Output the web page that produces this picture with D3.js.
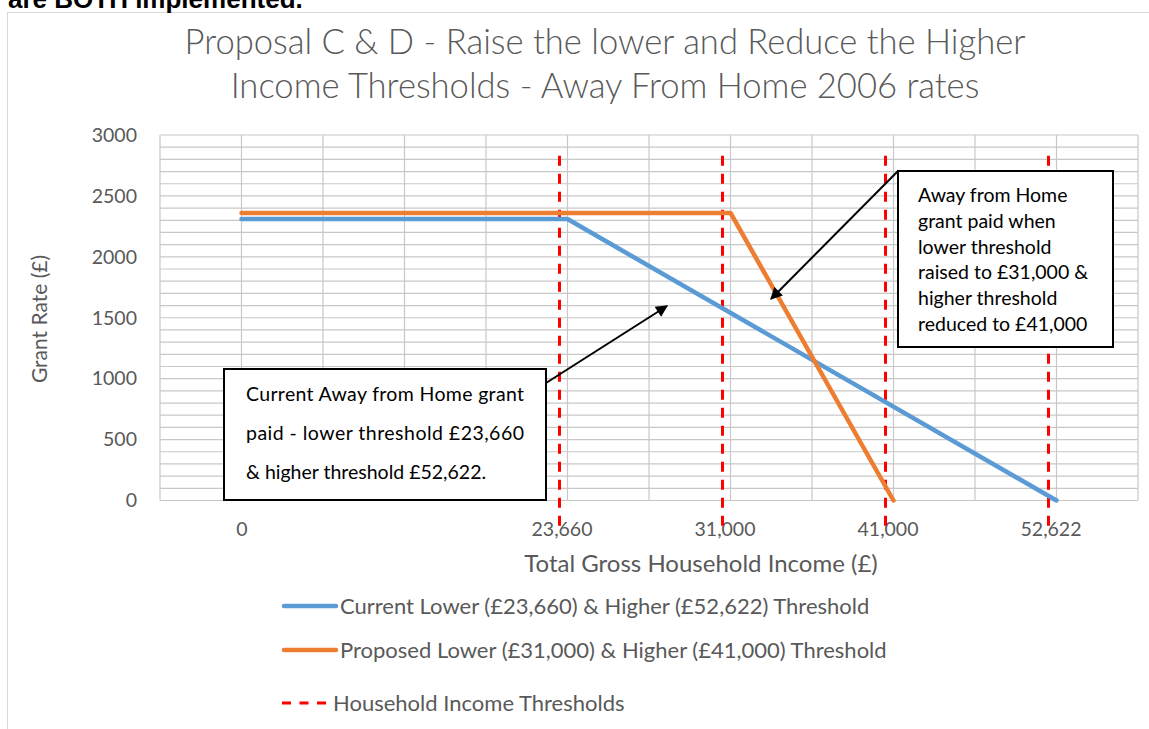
<!DOCTYPE html>
<html>
<head>
<meta charset="utf-8">
<script src="https://cdn.jsdelivr.net/npm/d3@7"></script>
<style>
body { margin: 0; background: #fff; }
svg { display: block; }
text { font-family: Lato, "Open Sans", sans-serif; }
</style>
</head>
<body>
<div id="chart"></div>
<script>
// category slots along the x axis (0..12), labels only sit on some of them
var xLabels = ["0", "23,660", "31,000", "41,000", "52,622"];
var xLabelSlots = [1, 5, 7, 9, 11];

var currentSlots = [1, 5, 11];
var currentValues = [2310, 2310, 0];

var proposedSlots = [1, 7, 9];
var proposedValues = [2360, 2360, 0];

var thresholdSlots = [5, 7, 9, 11];
var thresholdRange = [2830, -250];

var yTicks = [0, 500, 1000, 1500, 2000, 2500, 3000];

var legendNames = [
    "Current Lower (£23,660) & Higher (£52,622) Threshold",
    "Proposed Lower (£31,000) &  Higher (£41,000) Threshold",
    "Household Income Thresholds"
];

var W = 1149, H = 729;
var margin = {top: 135, right: 11, bottom: 228.5, left: 160};
var width = W - margin.left - margin.right,
    height = H - margin.top - margin.bottom;

var blue = "#5b9bd5", orange = "#ed7d31", red = "#ff0000", grey = "#595959";

var svg = d3.select("#chart")
    .append("svg")
    .attr("width", W)
    .attr("height", H);

// chart frame (runs off the page on the right and bottom)
svg.append("rect")
    .attr("x", 7.5).attr("y", 12.5)
    .attr("width", 1200).attr("height", 800)
    .attr("fill", "#fff")
    .attr("stroke", "#d9d9d9");

// cut-off heading from the page above
svg.append("text")
    .attr("x", 8).attr("y", 8)
    .style("font-family", "'Liberation Sans', Arial, sans-serif")
    .style("font-weight", "bold")
    .style("font-size", "26px")
    .text("are BOTH implemented.");

var g = svg.append("g")
    .attr("transform", "translate(" + margin.left + "," + margin.top + ")");

var x = d3.scaleLinear().domain([0, 12]).range([0, width]);
var y = d3.scaleLinear().domain([0, 3000]).range([height, 0]);

// gridlines
g.append("g")
    .selectAll("line")
    .data(d3.range(0, 3001, 100))
    .enter().append("line")
    .attr("x1", 0).attr("x2", width)
    .attr("y1", d => y(d)).attr("y2", d => y(d))
    .attr("stroke", "#c8c8c8")
    .attr("stroke-width", 1.2);

g.append("g")
    .selectAll("line")
    .data(d3.range(0, 13))
    .enter().append("line")
    .attr("x1", d => x(d)).attr("x2", d => x(d))
    .attr("y1", 0).attr("y2", height)
    .attr("stroke", "#c8c8c8")
    .attr("stroke-width", 1.2);

// Y axis
var yAxis = g.append("g")
    .call(d3.axisLeft(y).tickValues(yTicks).tickFormat(d3.format("d"))
        .tickSize(0).tickPadding(23));
yAxis.select(".domain").remove();
yAxis.selectAll("text")
    .style("font-size", "19.5px")
    .style("font-family", "Lato, 'Open Sans', sans-serif")
    .attr("fill", grey);

// X axis labels
var xAxis = g.append("g")
    .attr("transform", "translate(0," + height + ")")
    .call(d3.axisBottom(x).tickValues(xLabelSlots)
        .tickFormat((d, i) => xLabels[i]).tickSize(0).tickPadding(22));
xAxis.select(".domain").remove();
xAxis.selectAll("text")
    .style("font-size", "19.5px")
    .style("font-family", "Lato, 'Open Sans', sans-serif")
    .attr("fill", grey)
    .attr("dx", (d, i) => i === 0 ? 0 : -6);

// red threshold lines (drawn a touch left of the slot, like the original shapes)
g.append("g")
    .selectAll("line")
    .data(thresholdSlots)
    .enter().append("line")
    .attr("x1", d => x(d) - 8).attr("x2", d => x(d) - 8)
    .attr("y1", y(thresholdRange[0])).attr("y2", y(thresholdRange[1]))
    .attr("stroke", red)
    .attr("stroke-width", 3)
    .attr("stroke-dasharray", "10,8");

// series
var line = d3.line().x(d => x(d[0])).y(d => y(d[1]));

g.append("path")
    .datum(d3.zip(currentSlots, currentValues))
    .attr("d", line)
    .attr("fill", "none")
    .attr("stroke", blue)
    .attr("stroke-width", 4.5)
    .attr("stroke-linecap", "round")
    .attr("stroke-linejoin", "round");

g.append("path")
    .datum(d3.zip(proposedSlots, proposedValues))
    .attr("d", line)
    .attr("fill", "none")
    .attr("stroke", orange)
    .attr("stroke-width", 4.5)
    .attr("stroke-linecap", "round")
    .attr("stroke-linejoin", "round");

// title
var title = ["Proposal C & D - Raise the lower and Reduce the Higher",
             "Income Thresholds - Away From Home 2006 rates"];
svg.append("g").selectAll("text")
    .data(title)
    .enter().append("text")
    .attr("x", 605)
    .attr("y", (d, i) => 54 + i * 44)
    .attr("text-anchor", "middle")
    .attr("fill", grey)
    .style("font-size", "34.6px")
    .style("font-weight", 300)
    .text(d => d);

// axis titles
svg.append("text")
    .attr("transform", "translate(47,319) rotate(-90)")
    .attr("text-anchor", "middle")
    .attr("fill", grey)
    .style("font-size", "21px")
    .text("Grant Rate (£)");

svg.append("text")
    .attr("x", 701).attr("y", 572)
    .attr("text-anchor", "middle")
    .attr("fill", grey)
    .style("font-size", "24px")
    .text("Total Gross Household Income (£)");

// arrows
var defs = svg.append("defs");
defs.append("marker")
    .attr("id", "arrow")
    .attr("viewBox", "0 0 10 10")
    .attr("refX", 9).attr("refY", 5)
    .attr("markerWidth", 7).attr("markerHeight", 6)
    .attr("markerUnits", "strokeWidth")
    .attr("orient", "auto")
    .append("path")
    .attr("d", "M0,0L10,5L0,10Z")
    .attr("fill", "#000");

svg.append("line")
    .attr("x1", 546).attr("y1", 383).attr("x2", 667).attr("y2", 306)
    .attr("stroke", "#000").attr("stroke-width", 2)
    .attr("marker-end", "url(#arrow)");

svg.append("line")
    .attr("x1", 898).attr("y1", 171).attr("x2", 771).attr("y2", 299)
    .attr("stroke", "#000").attr("stroke-width", 2)
    .attr("marker-end", "url(#arrow)");

// callout boxes
svg.append("rect")
    .attr("x", 224).attr("y", 369).attr("width", 322).attr("height", 131)
    .attr("fill", "#fff").attr("stroke", "#000").attr("stroke-width", 2);

var box1 = ["Current Away from Home grant",
            "paid - lower threshold £23,660",
            "& higher threshold £52,622."];
svg.append("g").selectAll("text")
    .data(box1)
    .enter().append("text")
    .attr("x", 246)
    .attr("y", (d, i) => 401 + i * 39)
    .attr("fill", "#000")
    .style("font-size", "19.5px")
    .attr("textLength", (d, i) => i < 2 ? 278 : null)
    .attr("lengthAdjust", "spacing")
    .text(d => d);

svg.append("rect")
    .attr("x", 898).attr("y", 171).attr("width", 215).attr("height", 176)
    .attr("fill", "#fff").attr("stroke", "#000").attr("stroke-width", 2);

var box2 = ["Away from Home", "grant paid when", "lower threshold",
            "raised to £31,000 &", "higher threshold", "reduced to £41,000"];
svg.append("g").selectAll("text")
    .data(box2)
    .enter().append("text")
    .attr("x", 918)
    .attr("y", (d, i) => 202 + i * 25.8)
    .attr("fill", "#000")
    .style("font-size", "19.5px")
    .text(d => d);

// legend
var legend = svg.append("g");
var legendY = [606, 650, 703];

legend.append("line")
    .attr("x1", 284).attr("x2", 336).attr("y1", legendY[0]).attr("y2", legendY[0])
    .attr("stroke", blue).attr("stroke-width", 4.5).attr("stroke-linecap", "round");
legend.append("line")
    .attr("x1", 284).attr("x2", 336).attr("y1", legendY[1]).attr("y2", legendY[1])
    .attr("stroke", orange).attr("stroke-width", 4.5).attr("stroke-linecap", "round");
legend.append("line")
    .attr("x1", 282).attr("x2", 326).attr("y1", legendY[2]).attr("y2", legendY[2])
    .attr("stroke", red).attr("stroke-width", 3).attr("stroke-dasharray", "9,8.5");

legend.selectAll("text")
    .data(legendNames)
    .enter().append("text")
    .attr("x", (d, i) => i < 2 ? 340 : 333)
    .attr("y", (d, i) => legendY[i])
    .attr("dy", "0.35em")
    .attr("fill", grey)
    .style("font-size", "22px")
    .text(d => d);
</script>
</body>
</html>
